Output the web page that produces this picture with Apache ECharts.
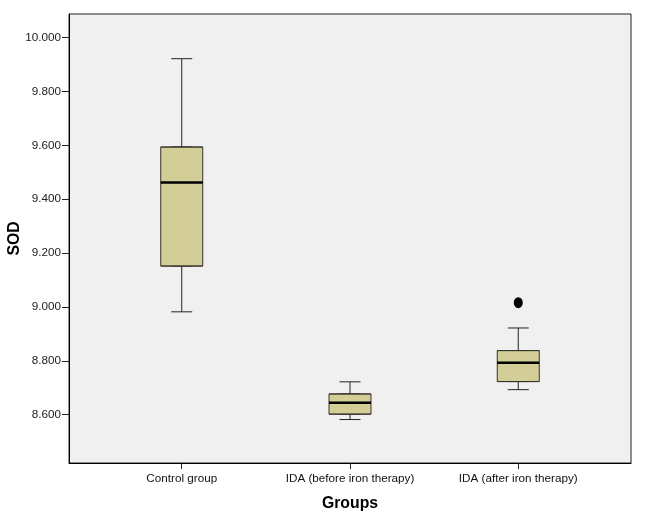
<!DOCTYPE html>
<html>
<head>
<meta charset="utf-8">
<script src="https://cdn.jsdelivr.net/npm/echarts@6/dist/echarts.min.js"></script>
<style>
html,body{margin:0;padding:0;background:#fff;}
#chart{width:649px;height:522px;}
</style>
</head>
<body>
<div id="chart"></div>
<script>
// Data
const categories = ['Control group', 'IDA (before iron therapy)', 'IDA (after iron therapy)'];
// [min, Q1, median, Q3, max]
const controlStats = [8.982, 9.152, 9.462, 9.594, 9.922];
const idaBeforeStats = [8.582, 8.602, 8.644, 8.677, 8.722];
const idaAfterStats = [8.693, 8.723, 8.793, 8.838, 8.922];
const outliers = [[2, 9.016]];
const yTicks = [8.6, 8.8, 9.0, 9.2, 9.4, 9.6, 9.8, 10.0];

const allStats = [controlStats, idaBeforeStats, idaAfterStats];
const whiskerData = allStats.map((s, i) => [i, s[0], s[1], s[2], s[3], s[4]]);
const boxData = allStats.map((s, i) => [i, s[1], s[1], s[2], s[3], s[3]]);
const medianData = allStats.map((s, i) => [i, s[2]]);

const FONT = 'Liberation Sans, Arial, sans-serif';
const X_MIN = -0.67, X_MAX = 2.67;
const chart = echarts.init(document.getElementById('chart'), null, {renderer: 'canvas'});
chart.setOption({
  animation: false,
  backgroundColor: '#ffffff',
  grid: {
    left: 69, top: 14, right: 18, bottom: 59,
    outerBoundsMode: 'none',
    containLabel: false,
    show: true, backgroundColor: '#f0f0f0', borderColor: '#222', borderWidth: 1
  },
  xAxis: [{
    type: 'value',
    min: X_MIN, max: X_MAX,
    name: 'Groups',
    nameLocation: 'middle',
    nameGap: 33,
    nameMoveOverlap: false,
    nameTextStyle: {fontFamily: FONT, fontSize: 15.8, fontWeight: 'bold', color: '#000'},
    splitLine: {show: false},
    axisLine: {show: true, onZero: false, lineStyle: {color: '#000', width: 1}},
    axisTick: {show: true, customValues: [0, 1, 2], length: 6, lineStyle: {color: '#222'}},
    axisLabel: {
      customValues: [0, 1, 2],
      formatter: v => categories[Math.round(v)] || '',
      fontFamily: FONT, fontSize: 11.7, color: '#111', margin: 10
    }
  }, {
    type: 'value',
    min: X_MIN, max: X_MAX,
    show: false,
    splitLine: {show: false}
  }],
  yAxis: {
    type: 'value',
    min: 8.4206, max: 10.088,
    name: 'SOD',
    nameLocation: 'middle',
    nameGap: 46,
    nameMoveOverlap: false,
    nameRotate: 90,
    nameTextStyle: {fontFamily: FONT, fontSize: 15.8, fontWeight: 'bold', color: '#000'},
    splitLine: {show: false},
    axisLine: {show: true, onZero: false, lineStyle: {color: '#000', width: 1}},
    axisTick: {show: true, customValues: yTicks, length: 7, lineStyle: {color: '#222'}},
    axisLabel: {
      customValues: yTicks,
      formatter: v => v.toFixed(3),
      fontFamily: FONT, fontSize: 11.7, color: '#222', margin: 8
    }
  },
  series: [
    {
      type: 'boxplot',
      xAxisIndex: 0,
      data: whiskerData,
      boxWidth: [21, 21],
      itemStyle: {color: '#d3ce97', borderColor: '#222', borderWidth: 1},
      z: 2
    },
    {
      type: 'boxplot',
      xAxisIndex: 1,
      data: boxData,
      boxWidth: [42, 42],
      itemStyle: {color: '#d3ce97', borderColor: '#36342a', borderWidth: 1},
      z: 3
    },
    {
      type: 'scatter',
      data: medianData,
      symbol: 'rect',
      symbolSize: [42, 2.5],
      itemStyle: {color: '#000', opacity: 1},
      z: 4
    },
    {
      type: 'scatter',
      data: outliers,
      symbol: 'circle',
      symbolSize: [9, 11],
      itemStyle: {color: '#000', opacity: 1},
      z: 5
    }
  ]
});
</script>
</body>
</html>
